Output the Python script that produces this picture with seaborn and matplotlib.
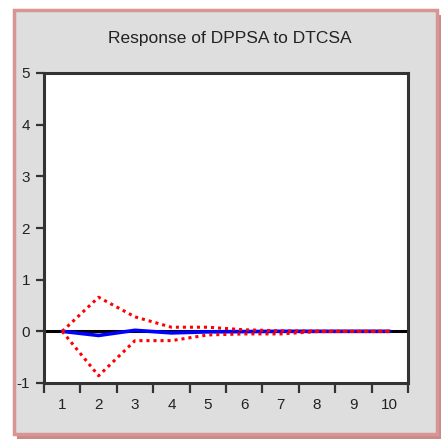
import matplotlib
matplotlib.use("Agg")
import matplotlib.pyplot as plt
from matplotlib.patches import Rectangle
import numpy as np
import pandas as pd
import seaborn as sns

# Impulse response of DPPSA to a shock in DTCSA, with +/- 2 S.E. bands
periods = [1, 2, 3, 4, 5, 6, 7, 8, 9, 10]
response = [0.0, -0.08, 0.02, -0.03, -0.01, -0.005, 0.0, 0.0, 0.0, 0.0]
upper = [0.0, 0.66, 0.28, 0.08, 0.08, 0.03, 0.01, 0.005, 0.0, 0.0]
lower = [0.0, -0.86, -0.18, -0.18, -0.07, -0.05, -0.05, -0.005, 0.0, 0.0]
y_ticks = [-1, 0, 1, 2, 3, 4, 5]
title = "Response of DPPSA to DTCSA"

df = pd.DataFrame({"period": periods, "response": response,
                   "upper": upper, "lower": lower})

sns.set_style("white")
plt.rcParams["font.family"] = ["Liberation Sans Narrow", "Liberation Sans", "DejaVu Sans"]

fig = plt.figure(figsize=(4.43, 4.43), dpi=100)
W = H = 443.0

# panel shadow and framed panel
fig.patches.append(Rectangle((17 / W, 1 - 439 / H), 424 / W, 424 / H,
                             transform=fig.transFigure, facecolor="#c98a8a",
                             edgecolor="none", zorder=0))
fig.patches.append(Rectangle((14 / W, 1 - 434 / H), 423 / W, 424 / H,
                             transform=fig.transFigure, facecolor="#dedede",
                             edgecolor="#d99494", linewidth=2.5, zorder=1))

ax = fig.add_axes([44 / W, 1 - 383 / H, 364 / W, 310 / H])
ax.set_facecolor("white")
ax.set_zorder(2)

ax.axhline(0, color="black", linewidth=2.2, zorder=1)
sns.lineplot(data=df, x="period", y="response", ax=ax, color="#0000ff",
             linewidth=2.6, zorder=3)
sns.lineplot(data=df, x="period", y="upper", ax=ax, color="#ff0000",
             linewidth=2.2, linestyle=(0, (1, 1.3)), zorder=4)
sns.lineplot(data=df, x="period", y="lower", ax=ax, color="#ff0000",
             linewidth=2.2, linestyle=(0, (1, 1.3)), zorder=4)

ax.set_xlim(0.5, 10.5)
ax.set_ylim(-1, 5)
ax.set_xlabel("")
ax.set_ylabel("")

# tick marks at period boundaries, labels at period centres
ax.set_xticks(np.arange(0.5, 11, 1.0))
ax.set_xticklabels([])
ax.set_xticks(periods, minor=True)
ax.set_xticklabels([str(p) for p in periods], minor=True, fontsize=11)
ax.tick_params(axis="x", which="major", direction="out", length=7, width=1.6,
               color="#333333", bottom=True)
ax.tick_params(axis="x", which="minor", length=0, pad=11, colors="#222222")
ax.set_yticks(y_ticks)
ax.set_yticklabels([str(v) for v in y_ticks], fontsize=11)
ax.tick_params(axis="y", direction="out", length=6, width=1.6,
               color="#333333", labelcolor="#222222", left=True, pad=4)

for s in ax.spines.values():
    s.set_color("#333333")
    s.set_linewidth(2.2)

fig.text(230 / W, 1 - 38 / H, title, ha="center", va="center",
         fontsize=12.5, color="#222222", zorder=5)

fig.savefig("out.png", dpi=100)
